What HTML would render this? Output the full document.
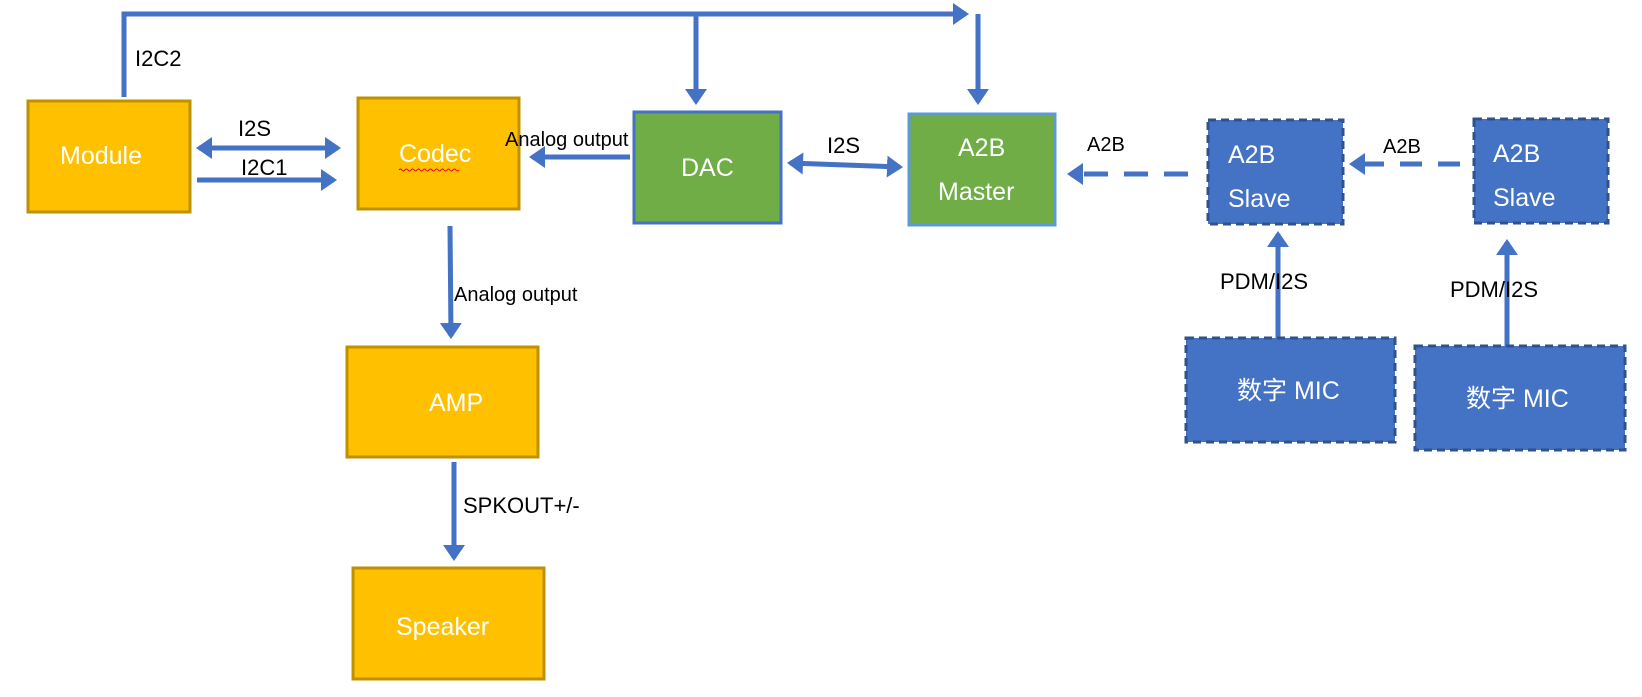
<!DOCTYPE html>
<html><head><meta charset="utf-8"><style>
html,body{margin:0;padding:0;background:#fff;}
svg{display:block;}
text{font-family:"Liberation Sans","Noto Sans CJK SC",sans-serif;}
.w{fill:#fff;font-size:25px;}
.l{fill:#000;font-size:22px;}
</style></head><body>
<svg width="1642" height="697" viewBox="0 0 1642 697" xmlns="http://www.w3.org/2000/svg">
<defs>
<marker id="a" markerWidth="4" markerHeight="5" refX="2.6" refY="2.2" orient="auto" markerUnits="strokeWidth"><path d="M0,0 L3.2,2.2 L0,4.4 z" fill="#4472C4"/></marker>
<marker id="b" markerWidth="4" markerHeight="5" refX="0.6" refY="2.2" orient="auto" markerUnits="strokeWidth"><path d="M3.2,0 L0,2.2 L3.2,4.4 z" fill="#4472C4"/></marker>
</defs>
<g stroke="#4472C4" stroke-width="5" fill="none">
<polyline points="124,97 124,14 966,14" marker-end="url(#a)"/>
<line x1="978" y1="14" x2="978" y2="102" marker-end="url(#a)"/>
<line x1="696" y1="14" x2="696" y2="102" marker-end="url(#a)"/>
<line x1="199" y1="148" x2="338" y2="148" marker-start="url(#b)" marker-end="url(#a)"/>
<line x1="197" y1="180" x2="334" y2="180" marker-end="url(#a)"/>
<line x1="630" y1="157" x2="532" y2="157" marker-end="url(#a)"/>
<line x1="450" y1="226" x2="451" y2="336" marker-end="url(#a)"/>
<line x1="454" y1="462" x2="454" y2="558" marker-end="url(#a)"/>
<line x1="790" y1="163" x2="900" y2="167" marker-start="url(#b)" marker-end="url(#a)"/>
<line x1="1188" y1="174" x2="1070" y2="174" stroke-dasharray="24,16" marker-end="url(#a)"/>
<line x1="1460" y1="164" x2="1352" y2="164" stroke-dasharray="22,16" marker-end="url(#a)"/>
<line x1="1278" y1="338" x2="1278" y2="234" marker-end="url(#a)"/>
<line x1="1507" y1="346" x2="1507" y2="242" marker-end="url(#a)"/>
</g>
<g stroke="#BF9000" stroke-width="3" fill="#FFC000">
<rect x="28" y="101" width="162" height="111"/>
<rect x="358" y="98" width="161" height="111"/>
<rect x="347" y="347" width="191" height="110"/>
<rect x="353" y="568" width="191" height="111"/>
</g>
<rect x="634" y="112" width="147" height="111" fill="#70AD47" stroke="#4472C4" stroke-width="3"/>
<rect x="909" y="114" width="146" height="111" fill="#70AD47" stroke="#5B9BD5" stroke-width="3"/>
<g fill="#4472C4" stroke="#2F528F" stroke-width="3" stroke-dasharray="8,5">
<rect x="1208" y="120" width="135" height="104"/>
<rect x="1474" y="119" width="134" height="104"/>
<rect x="1186" y="338" width="209" height="104"/>
<rect x="1415" y="346" width="210" height="104"/>
</g>
<text class="w" x="60" y="164">Module</text>
<text class="w" x="399" y="162">Codec</text>
<path d="M399,170 q1.5,-2 3,0 t3,0 t3,0 t3,0 t3,0 t3,0 t3,0 t3,0 t3,0 t3,0 t3,0 t3,0 t3,0 t3,0 t3,0 t3,0 t3,0 t3,0 t3,0 t3,0" stroke="#e00" stroke-width="1" fill="none"/>
<text class="w" x="681" y="176">DAC</text>
<text class="w" x="958" y="156">A2B</text>
<text class="w" x="938" y="200">Master</text>
<text class="w" x="1228" y="163">A2B</text>
<text class="w" x="1228" y="207">Slave</text>
<text class="w" x="1493" y="162">A2B</text>
<text class="w" x="1493" y="206">Slave</text>
<text class="w" x="1237" y="399">数字 MIC</text>
<text class="w" x="1466" y="407">数字 MIC</text>
<text class="w" x="429" y="411">AMP</text>
<text class="w" x="396" y="635">Speaker</text>
<text class="l" x="135" y="66">I2C2</text>
<text class="l" x="238" y="136">I2S</text>
<text class="l" x="241" y="175">I2C1</text>
<text class="l" x="505" y="146" style="font-size:20px">Analog output</text>
<text class="l" x="454" y="301" style="font-size:20px">Analog output</text>
<text class="l" x="463" y="513">SPKOUT+/-</text>
<text class="l" x="827" y="153">I2S</text>
<text class="l" x="1087" y="151" style="font-size:20px">A2B</text>
<text class="l" x="1383" y="153" style="font-size:20px">A2B</text>
<text class="l" x="1220" y="289">PDM/I2S</text>
<text class="l" x="1450" y="297">PDM/I2S</text>
</svg>
</body></html>
